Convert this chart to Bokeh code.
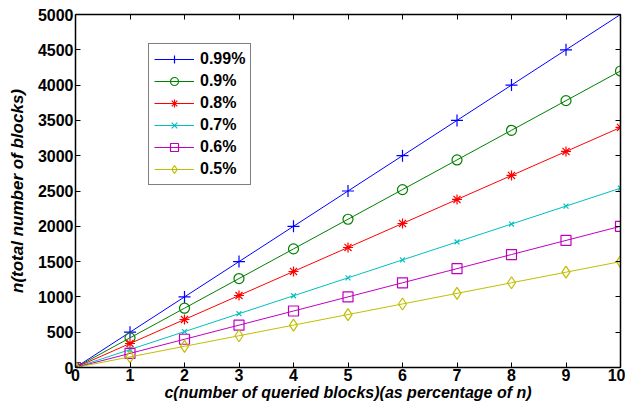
from bokeh.plotting import figure
from bokeh.models import LinearAxis, Range1d, Legend, LegendItem, FixedTicker
from bokeh.embed import file_html
from bokeh.resources import INLINE

x = [0, 1, 2, 3, 4, 5, 6, 7, 8, 9, 10]
s099 = [0, 500, 1000, 1500, 2000, 2500, 3000, 3500, 4000, 4500, 5000]
s09 = [0, 420, 840, 1260, 1680, 2100, 2520, 2940, 3360, 3780, 4200]
s08 = [0, 340, 680, 1020, 1360, 1700, 2040, 2380, 2720, 3060, 3400]
s07 = [0, 254, 508, 762, 1016, 1270, 1524, 1778, 2032, 2286, 2540]
s06 = [0, 200, 400, 600, 800, 1000, 1200, 1400, 1600, 1800, 2000]
s05 = [0, 150, 300, 450, 600, 750, 900, 1050, 1200, 1350, 1500]
labels = ["0.99%", "0.9%", "0.8%", "0.7%", "0.6%", "0.5%"]
xticks = [0, 1, 2, 3, 4, 5, 6, 7, 8, 9, 10]
yticks = [0, 500, 1000, 1500, 2000, 2500, 3000, 3500, 4000, 4500, 5000]

series = [s099, s09, s08, s07, s06, s05]
colors = ["#0000FF", "#008000", "#FF0000", "#00BFBF", "#BF00BF", "#BFBF00"]
markers = ["cross", "circle", "asterisk", "x", "square", "diamond"]
msizes = [12, 10, 10, 7, 10, 12]

FONT = "Liberation Sans"

p = figure(width=625, height=403, output_backend="svg", toolbar_location=None,
           x_range=Range1d(0, 10), y_range=Range1d(0, 5000),
           min_border_left=75, min_border_right=5, min_border_top=14, min_border_bottom=10)
p.xgrid.visible = False
p.ygrid.visible = False
p.outline_line_color = None

p.xaxis.ticker = FixedTicker(ticks=xticks)
p.yaxis.ticker = FixedTicker(ticks=yticks)
for ax in [p.xaxis[0], p.yaxis[0]]:
    ax.major_tick_in = 5
    ax.major_tick_out = 0
    ax.minor_tick_line_color = None
    ax.axis_line_width = 1.5
    ax.axis_line_color = "black"
    ax.major_tick_line_color = "black"
    ax.major_label_text_font = FONT
    ax.major_label_text_font_style = "bold"
    ax.major_label_text_font_size = "16px"
    ax.major_label_text_color = "black"
    ax.axis_label_text_font = FONT
    ax.axis_label_text_font_style = "bold italic"
    ax.axis_label_text_color = "black"
    ax.major_label_standoff = 2
    ax.axis_label_standoff = 0
p.xaxis.axis_label = "c(number of queried blocks)(as percentage of n)"
p.yaxis.axis_label = "n(total number of blocks)"
p.xaxis.axis_label_text_font_size = "16px"
p.xaxis.major_label_standoff = 1
p.yaxis.axis_label_text_font_size = "17px"
p.yaxis.axis_label_standoff = 8

top = LinearAxis(ticker=FixedTicker(ticks=xticks))
right = LinearAxis(ticker=FixedTicker(ticks=yticks))
for ax in [top, right]:
    ax.major_tick_in = 5
    ax.major_tick_out = 0
    ax.minor_tick_line_color = None
    ax.axis_line_width = 1.5
    ax.major_label_text_font_size = "0px"
    ax.major_label_text_color = None
    ax.major_label_standoff = 0
p.add_layout(top, "above")
p.add_layout(right, "right")

items = []
for ys, c, m, ms, lab in zip(series, colors, markers, msizes, labels):
    r1 = p.line(x, ys, line_color=c, line_width=1.0)
    r2 = p.scatter(x, ys, marker=m, size=ms, line_color=c, fill_color=None, line_width=1.2)
    items.append(LegendItem(label=lab, renderers=[r1, r2]))

legend = Legend(items=items, location=(73, 182))
legend.label_text_font = FONT
legend.label_text_font_style = "bold"
legend.label_text_font_size = "16px"
legend.label_text_color = "black"
legend.glyph_width = 40
legend.glyph_height = 20
legend.label_height = 20
legend.label_standoff = 6
legend.spacing = 2
legend.padding = 5
legend.margin = 0
legend.border_line_color = "black"
legend.border_line_width = 1.5
legend.background_fill_alpha = 1
p.add_layout(legend, "center")

open("out.html", "w").write(file_html(p, INLINE))
